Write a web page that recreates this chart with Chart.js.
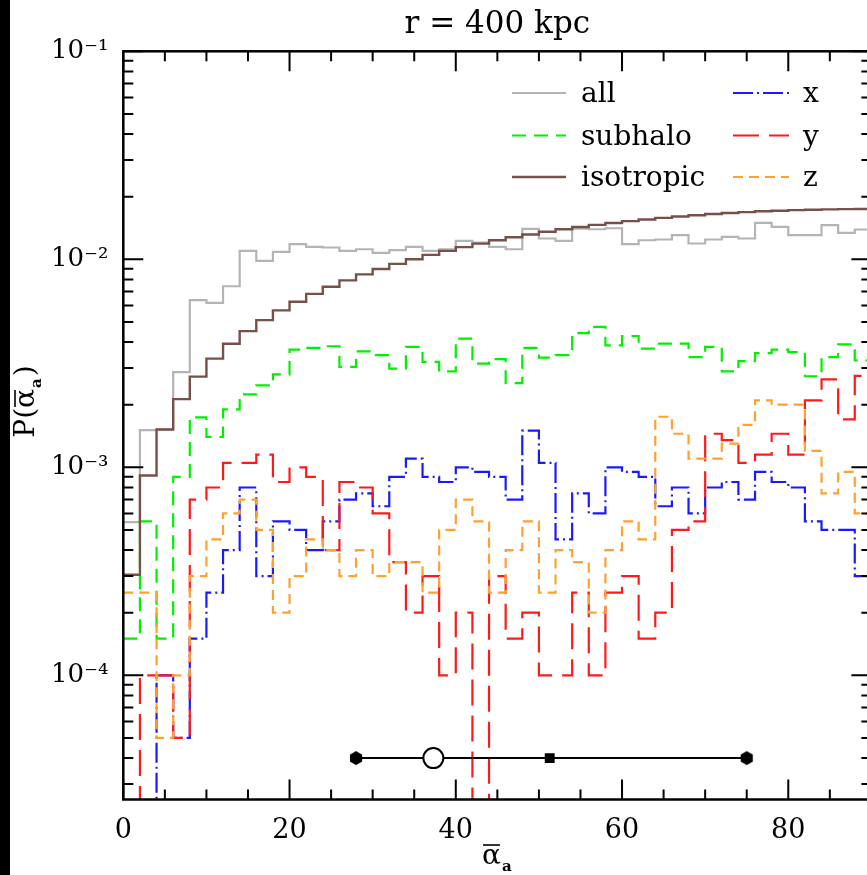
<!DOCTYPE html>
<html>
<head>
<meta charset="utf-8">
<script src="https://cdn.jsdelivr.net/npm/chart.js@4.4.0/dist/chart.umd.min.js"></script>
<style>
  html, body { margin: 0; padding: 0; background: #fff; overflow: hidden; }
  #wrap { position: relative; width: 880px; height: 875px; }
  #strip { position: absolute; left: 0; top: 0; width: 10px; height: 875px; background: #000; }
</style>
</head>
<body>
<div id="wrap">
  <canvas id="chart" width="880" height="875"></canvas>
  <div id="strip"></div>
</div>
<script>
// left edges of the 2-degree bins
const binStarts = [0, 2, 4, 6, 8, 10, 12, 14, 16, 18, 20, 22, 24, 26, 28, 30, 32, 34, 36, 38, 40, 42,
  44, 46, 48, 50, 52, 54, 56, 58, 60, 62, 64, 66, 68, 70, 72, 74, 76, 78, 80, 82, 84, 86, 88];
const binEnd = 90;

const allVals = [5.45e-4, 1.51e-3, 1.52e-3, 2.87e-3, 6.36e-3, 6.17e-3, 7.42e-3, 1.098e-2, 9.82e-3, 1.085e-2,
  1.182e-2, 1.147e-2, 1.140e-2, 1.098e-2, 1.118e-2, 1.074e-2, 1.106e-2, 1.147e-2, 1.098e-2, 1.118e-2,
  1.226e-2, 1.204e-2, 1.147e-2, 1.118e-2, 1.400e-2, 1.259e-2, 1.226e-2, 1.406e-2, 1.395e-2, 1.41e-2,
  1.182e-2, 1.235e-2, 1.245e-2, 1.306e-2, 1.191e-2, 1.245e-2, 1.282e-2, 1.259e-2, 1.497e-2, 1.432e-2,
  1.306e-2, 1.306e-2, 1.459e-2, 1.340e-2, 1.391e-2];

const subhaloVals = [1.5e-4, 5.5e-4, 1.5e-4, 9.0e-4, 1.74e-3, 1.40e-3, 1.90e-3, 2.24e-3, 2.48e-3, 2.80e-3,
  3.68e-3, 3.75e-3, 3.82e-3, 3.04e-3, 3.61e-3, 3.46e-3, 2.98e-3, 3.79e-3, 3.21e-3, 2.89e-3,
  4.16e-3, 3.15e-3, 3.31e-3, 2.54e-3, 3.75e-3, 3.37e-3, 3.46e-3, 4.42e-3, 4.73e-3, 3.86e-3,
  4.28e-3, 3.72e-3, 3.93e-3, 3.93e-3, 3.39e-3, 3.79e-3, 2.89e-3, 3.24e-3, 3.54e-3, 3.68e-3,
  3.58e-3, 2.74e-3, 3.39e-3, 3.90e-3, 3.27e-3];

const isotropicVals = [3.046e-4, 9.134e-4, 1.521e-3, 2.127e-3, 2.730e-3, 3.330e-3, 3.926e-3, 4.517e-3, 5.103e-3, 5.682e-3,
  6.254e-3, 6.819e-3, 7.376e-3, 7.923e-3, 8.461e-3, 8.989e-3, 9.505e-3, 1.001e-2, 1.050e-2, 1.098e-2,
  1.145e-2, 1.190e-2, 1.234e-2, 1.276e-2, 1.317e-2, 1.356e-2, 1.394e-2, 1.430e-2, 1.464e-2, 1.496e-2,
  1.526e-2, 1.555e-2, 1.582e-2, 1.607e-2, 1.629e-2, 1.650e-2, 1.669e-2, 1.686e-2, 1.701e-2, 1.713e-2,
  1.724e-2, 1.732e-2, 1.739e-2, 1.743e-2, 1.745e-2];

const xVals = [0, 0, 1e-4, 5e-5, 1.5e-4, 2.5e-4, 4e-4, 8e-4, 3e-4, 5.5e-4,
  5e-4, 4e-4, 5.5e-4, 7e-4, 7.5e-4, 6.5e-4, 9e-4, 1.1e-3, 9e-4, 8.5e-4,
  1e-3, 9.5e-4, 9e-4, 7e-4, 1.5e-3, 1.05e-3, 4.5e-4, 7.5e-4, 6e-4, 1e-3,
  9.5e-4, 9e-4, 6.5e-4, 8e-4, 6e-4, 8e-4, 8.5e-4, 7e-4, 9.5e-4, 8.5e-4,
  8e-4, 5.5e-4, 5e-4, 5e-4, 3e-4];

const yVals = [0, 1e-4, 1e-4, 5e-5, 7e-4, 8e-4, 1.05e-3, 1.05e-3, 1.15e-3, 8.5e-4,
  1e-3, 9e-4, 4e-4, 8.5e-4, 8e-4, 6e-4, 3.5e-4, 2e-4, 3e-4, 1e-4,
  2e-4, 0, 3e-4, 1.5e-4, 2e-4, 1e-4, 1e-4, 2.5e-4, 1e-4, 2.5e-4,
  3e-4, 1.5e-4, 2e-4, 5e-4, 5.5e-4, 1.45e-3, 1.35e-3, 1.05e-3, 1.15e-3, 1.45e-3,
  1.15e-3, 2.1e-3, 2.65e-3, 1.7e-3, 2.75e-3];

const zVals = [2.5e-4, 2.5e-4, 5e-5, 1e-4, 3e-4, 4.5e-4, 6e-4, 7e-4, 5e-4, 2e-4,
  3e-4, 4.5e-4, 4e-4, 3e-4, 4e-4, 3e-4, 3.5e-4, 3.5e-4, 2.5e-4, 5e-4,
  7e-4, 5.5e-4, 2.5e-4, 4e-4, 5.5e-4, 2.5e-4, 4e-4, 3.5e-4, 2e-4, 4e-4,
  5.5e-4, 4.5e-4, 1.75e-3, 1.45e-3, 1.1e-3, 1.1e-3, 1.3e-3, 1.6e-3, 2.1e-3, 2.0e-3,
  2.0e-3, 1.2e-3, 7.5e-4, 9.5e-4, 6e-4];

// markers along the bottom
const markerAngles = [28, 37.3, 51.3, 75];
const markerLevel = 4e-5;

const xTickValues = [0, 20, 40, 60, 80];
const yTickValues = [1e-4, 1e-3, 1e-2, 1e-1];
const yTickLabels = ['10\u207B\u2074', '10\u207B\u00B3', '10\u207B\u00B2', '10\u207B\u00B9'];

const xMin = 0, xMax = 90;
const yMin = 2.53e-5, yMax = 0.1;
const logFloor = 1e-7; // empty bins drop off the bottom of the log axis

const serif = "'DejaVu Serif', serif";

const series = [
  { label: 'all', vals: allVals, color: '#b4b4b4', dash: [], width: 2.2 },
  { label: 'subhalo', vals: subhaloVals, color: '#00f000', dash: [14, 8], width: 2.2 },
  { label: 'isotropic', vals: isotropicVals, color: '#77504a', dash: [], width: 2.4 },
  { label: 'x', vals: xVals, color: '#1a1aff', dash: [20, 4, 2, 4], width: 2.2 },
  { label: 'y', vals: yVals, color: '#ff1a1a', dash: [26, 10], width: 2.2 },
  { label: 'z', vals: zVals, color: '#ffa030', dash: [10, 6], width: 2.2 }
];

function toSteps(vals) {
  const pts = binStarts.map((x, i) => ({ x: x, y: vals[i] > 0 ? vals[i] : logFloor }));
  const last = vals[vals.length - 1];
  pts.push({ x: binEnd, y: last > 0 ? last : logFloor });
  return pts;
}

// hexagon marker
function hexagon(r) {
  const c = document.createElement('canvas');
  const s = Math.ceil(r * 2 + 2);
  c.width = s; c.height = s;
  const g = c.getContext('2d');
  g.fillStyle = '#000';
  g.beginPath();
  for (let k = 0; k < 6; k++) {
    const a = Math.PI / 6 + k * Math.PI / 3;
    const px = s / 2 + r * Math.cos(a), py = s / 2 + r * Math.sin(a);
    k ? g.lineTo(px, py) : g.moveTo(px, py);
  }
  g.closePath();
  g.fill();
  return c;
}
const hex = hexagon(7);

const datasets = [{
  label: 'markers',
  data: markerAngles.map(a => ({ x: a, y: markerLevel })),
  borderColor: '#000',
  borderWidth: 2,
  pointStyle: [hex, 'circle', 'rect', hex],
  pointRadius: [7, 10, 7, 7],
  pointBackgroundColor: ['#000', '#fff', '#000', '#000'],
  pointBorderColor: '#000',
  pointBorderWidth: [0, 2, 0, 0]
}];
series.slice().reverse().forEach(s => {
  datasets.push({
    label: s.label,
    data: toSteps(s.vals),
    stepped: 'before',
    borderColor: s.color,
    borderWidth: s.width,
    borderDash: s.dash,
    borderCapStyle: 'butt',
    borderJoinStyle: 'miter',
    pointRadius: 0,
    fill: false
  });
});

// frame, inward ticks, title, axis labels, legend
const decorations = {
  id: 'decorations',
  afterDatasetsDraw(chart) {
    const { ctx, chartArea: a, scales: { x, y } } = chart;
    ctx.save();
    ctx.strokeStyle = '#000';
    ctx.lineWidth = 2;
    ctx.setLineDash([]);
    ctx.beginPath();
    for (let v = xMin; v <= xMax; v += 5) {
      const px = x.getPixelForValue(v);
      const len = xTickValues.includes(v) ? 20 : 10;
      ctx.moveTo(px, a.bottom); ctx.lineTo(px, a.bottom - len);
      ctx.moveTo(px, a.top); ctx.lineTo(px, a.top + len);
    }
    for (let d = -5; d <= -1; d++) {
      for (let m = 1; m <= 9; m++) {
        const v = m * Math.pow(10, d);
        if (v < yMin || v > yMax * 1.0001) continue;
        const py = y.getPixelForValue(v);
        const len = m === 1 ? 20 : 10;
        ctx.moveTo(a.left, py); ctx.lineTo(a.left + len, py);
        ctx.moveTo(a.right, py); ctx.lineTo(a.right - len, py);
      }
    }
    ctx.stroke();
    ctx.lineWidth = 2.5;
    ctx.strokeRect(a.left, a.top, a.right - a.left, a.bottom - a.top);

    ctx.fillStyle = '#000';
    // title
    ctx.font = '31px ' + serif;
    ctx.textAlign = 'center';
    ctx.textBaseline = 'alphabetic';
    ctx.fillText('r = 400 kpc', (a.left + a.right) / 2, 33);

    // x axis title
    drawAlpha(ctx, (a.left + a.right) / 2, 864, '', '');
    // y axis title, rotated
    ctx.save();
    ctx.translate(34, 402);
    ctx.rotate(-Math.PI / 2);
    drawAlpha(ctx, 0, 0, 'P(', ')');
    ctx.restore();

    // legend
    const cols = [{ x0: 512, x1: 566, tx: 581 }, { x0: 733, x1: 789, tx: 803 }];
    const rows = [93, 135.5, 177];
    series.forEach((s, i) => {
      const c = cols[Math.floor(i / 3)], ry = rows[i % 3];
      ctx.strokeStyle = s.color;
      ctx.lineWidth = s.width;
      ctx.setLineDash(s.dash);
      ctx.beginPath();
      ctx.moveTo(c.x0, ry); ctx.lineTo(c.x1, ry);
      ctx.stroke();
      ctx.setLineDash([]);
      ctx.font = '28px ' + serif;
      ctx.textAlign = 'left';
      ctx.fillText(s.label, c.tx, ry + 9);
    });
    ctx.restore();
  }
};

// overlined alpha with subscript a, optional text before/after
function drawAlpha(ctx, cx, base, pre, post) {
  const big = '28px ' + serif, small = 'bold 15px ' + serif;
  ctx.font = big;
  const wPre = ctx.measureText(pre).width;
  const wA = ctx.measureText('\u03B1').width;
  const wPost = ctx.measureText(post).width;
  ctx.font = small;
  const wSub = ctx.measureText('a').width + 2;
  let xx = cx - (wPre + wA + wSub + wPost) / 2;
  ctx.textAlign = 'left';
  ctx.textBaseline = 'alphabetic';
  ctx.font = big;
  ctx.fillText(pre, xx, base); xx += wPre;
  ctx.fillText('\u03B1', xx, base);
  ctx.lineWidth = 1.6;
  ctx.strokeStyle = '#000';
  ctx.beginPath();
  ctx.moveTo(xx + 1, base - 19); ctx.lineTo(xx + wA - 1, base - 19);
  ctx.stroke();
  xx += wA + 1;
  ctx.font = small;
  ctx.fillText('a', xx, base + 7); xx += wSub;
  ctx.font = big;
  ctx.fillText(post, xx, base);
}

new Chart(document.getElementById('chart'), {
  type: 'line',
  data: { datasets: datasets },
  options: {
    responsive: false,
    animation: false,
    layout: { padding: { top: 51.3, left: 10, right: 8.6, bottom: 0 } },
    plugins: { legend: { display: false }, tooltip: { enabled: false }, title: { display: false } },
    scales: {
      x: {
        type: 'linear', min: xMin, max: xMax,
        grid: { display: false, drawTicks: false }, border: { display: false },
        afterBuildTicks: s => { s.ticks = xTickValues.map(v => ({ value: v })); },
        ticks: { color: '#000', font: { family: serif, size: 27 }, padding: 15, maxRotation: 0,
          callback: v => String(v) },
        afterFit: s => { s.height = 75.5; }
      },
      y: {
        type: 'logarithmic', min: yMin, max: yMax,
        grid: { display: false, drawTicks: false }, border: { display: false },
        afterBuildTicks: s => { s.ticks = yTickValues.map(v => ({ value: v })); },
        ticks: { color: '#000', font: { family: serif, size: 26 }, padding: 15,
          callback: v => yTickLabels[yTickValues.indexOf(v)] },
        afterFit: s => { s.width = 113.3; }
      }
    }
  },
  plugins: [decorations]
});
</script>
</body>
</html>
